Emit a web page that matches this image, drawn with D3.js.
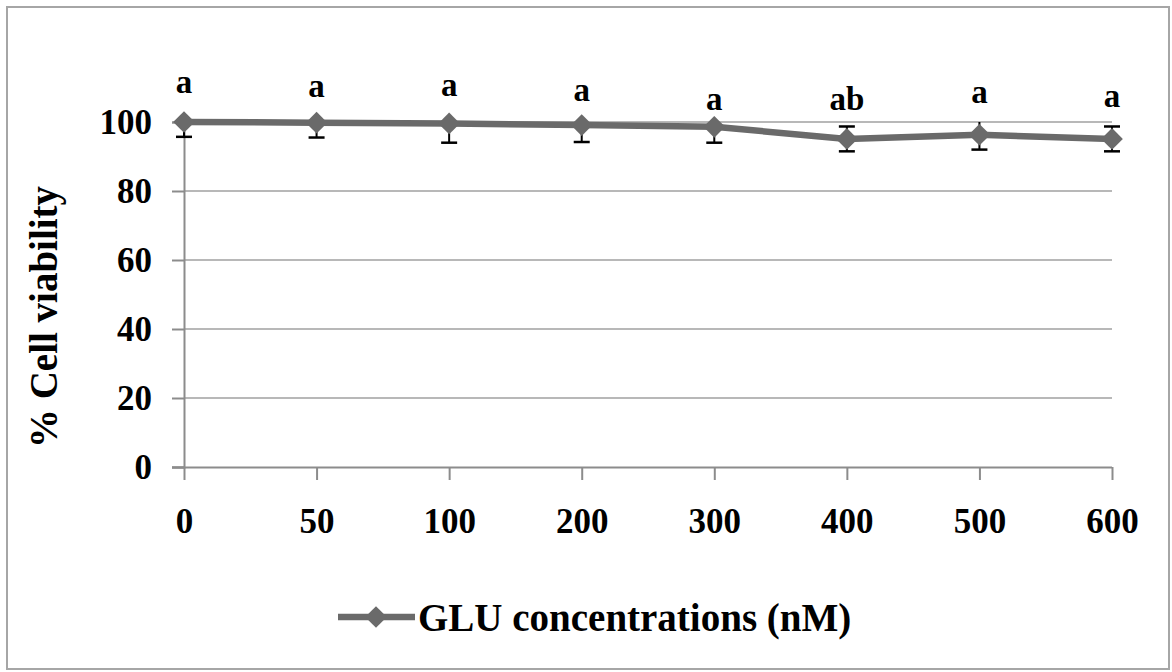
<!DOCTYPE html>
<meta charset="utf-8">
<head>
<script src="https://d3js.org/d3.v7.min.js"></script>
<style>
  body { margin: 0; background: #fff; }
  svg text { font-family: "Liberation Serif", "Times New Roman", serif; font-weight: bold; fill: #000; }
</style>
</head>
<body>
<svg id="chart" width="1172" height="672"></svg>
<script>
// data
var concentrations = ["0", "50", "100", "200", "300", "400", "500", "600"];
var viability = [100, 99.8, 99.6, 99.1, 98.6, 95.1, 96.3, 95.1];
var errors = [4.3, 4.3, 5.6, 4.9, 4.6, 3.6, 4.3, 3.6];
var letters = ["a", "a", "a", "a", "a", "ab", "a", "a"];
var letterLevel = [111.3, 110.2, 110.4, 109.0, 106.4, 106.4, 108.4, 107.2];
var yTicks = [0, 20, 40, 60, 80, 100];
var seriesName = "GLU concentrations (nM)";

var svg = d3.select("#chart");

// outer frame
svg.append("rect")
  .attr("x", 7).attr("y", 7).attr("width", 1162).attr("height", 662)
  .attr("fill", "none").attr("stroke", "#a6a6a6").attr("stroke-width", 2);

var x = d3.scalePoint().domain(concentrations).range([184, 1112]);
var y = d3.scaleLinear().domain([0, 100]).range([467, 122]);

// gridlines
svg.append("g")
  .selectAll("line")
  .data(yTicks.filter(function(d) { return d > 0; }))
  .enter().append("line")
  .attr("x1", 184).attr("x2", 1112)
  .attr("y1", function(d) { return y(d); })
  .attr("y2", function(d) { return y(d); })
  .attr("stroke", "#a0a0a0").attr("stroke-width", 1.5);

// y axis
var yAxis = d3.axisLeft(y).tickValues(yTicks).tickSize(12).tickPadding(20);
var gy = svg.append("g").attr("transform", "translate(184,0)").call(yAxis);
gy.select(".domain").attr("stroke", "#8c8c8c").attr("stroke-width", 2);
gy.selectAll(".tick line").attr("stroke", "#8c8c8c").attr("stroke-width", 2);
gy.selectAll(".tick text").attr("font-size", 35).attr("fill", "#000");

// x axis
var xAxis = d3.axisBottom(x).tickSizeInner(13).tickSizeOuter(0).tickPadding(28);
var gx = svg.append("g").attr("transform", "translate(0,467)").call(xAxis);
gx.select(".domain").attr("d", "M172,0.5H1112").attr("stroke", "#8c8c8c").attr("stroke-width", 2);
gx.selectAll(".tick line").attr("stroke", "#8c8c8c").attr("stroke-width", 2);
gx.selectAll(".tick text").attr("font-size", 35).attr("fill", "#000");

// y title
svg.append("text")
  .attr("transform", "translate(57,317) rotate(-90)")
  .attr("text-anchor", "middle")
  .attr("font-size", 39)
  .text("%  Cell viability");

// clip error bars at the top of the plot area
svg.append("clipPath").attr("id", "plotclip")
  .append("rect").attr("x", 150).attr("y", y(100)).attr("width", 1000).attr("height", y(0) - y(100) + 5);

var pts = concentrations.map(function(c, i) {
  return { c: c, v: viability[i], e: errors[i], l: letters[i], ly: letterLevel[i] };
});

// line
var line = d3.line()
  .x(function(d) { return x(d.c); })
  .y(function(d) { return y(d.v); });
svg.append("path")
  .datum(pts)
  .attr("d", line)
  .attr("fill", "none")
  .attr("stroke", "#6a6a6a")
  .attr("stroke-width", 6.5)
  .attr("stroke-linejoin", "round");

// error bars
var eb = svg.append("g").attr("clip-path", "url(#plotclip)")
  .selectAll("g").data(pts).enter().append("g");
eb.append("line")
  .attr("x1", function(d) { return x(d.c); }).attr("x2", function(d) { return x(d.c); })
  .attr("y1", function(d) { return y(d.v + d.e); }).attr("y2", function(d) { return y(d.v - d.e); })
  .attr("stroke", "#000").attr("stroke-width", 2);
eb.append("line")
  .attr("x1", function(d) { return x(d.c) - 8; }).attr("x2", function(d) { return x(d.c) + 8; })
  .attr("y1", function(d) { return y(d.v - d.e); }).attr("y2", function(d) { return y(d.v - d.e); })
  .attr("stroke", "#000").attr("stroke-width", 2.5);
eb.append("line")
  .attr("x1", function(d) { return x(d.c) - 8; }).attr("x2", function(d) { return x(d.c) + 8; })
  .attr("y1", function(d) { return y(d.v + d.e); }).attr("y2", function(d) { return y(d.v + d.e); })
  .attr("stroke", "#000").attr("stroke-width", 2.5);

// diamond markers
var diamond = d3.symbol().type(d3.symbolDiamond2).size(300);
svg.append("g").selectAll("path")
  .data(pts).enter().append("path")
  .attr("d", diamond)
  .attr("transform", function(d) { return "translate(" + x(d.c) + "," + y(d.v) + ")"; })
  .attr("fill", "#6a6a6a");

// significance letters
svg.append("g").selectAll("text")
  .data(pts).enter().append("text")
  .attr("x", function(d) { return x(d.c); })
  .attr("y", function(d) { return y(d.ly); })
  .attr("dy", "0.3em")
  .attr("text-anchor", "middle")
  .attr("font-size", 33)
  .text(function(d) { return d.l; });

// legend
var lg = svg.append("g").attr("transform", "translate(338,617)");
lg.append("line").attr("x1", 0).attr("x2", 77).attr("y1", 0).attr("y2", 0)
  .attr("stroke", "#6a6a6a").attr("stroke-width", 6.5);
lg.append("path").attr("d", diamond).attr("transform", "translate(38,0)").attr("fill", "#6a6a6a");
lg.append("text").attr("x", 80).attr("y", 0).attr("dy", "0.35em")
  .attr("font-size", 39)
  .text(seriesName);
</script>
</body>
